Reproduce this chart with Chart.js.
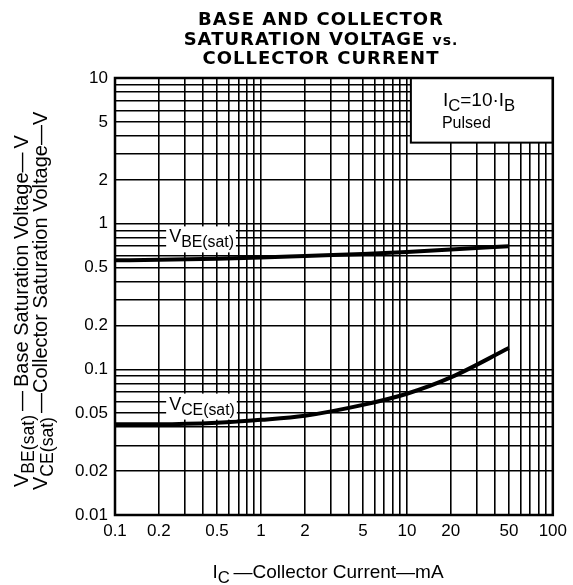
<!DOCTYPE html>
<html>
<head>
<meta charset="utf-8">
<script src="https://cdn.jsdelivr.net/npm/chart.js@4.4.0/dist/chart.umd.min.js"></script>
<style>
  html, body { margin: 0; padding: 0; background: #fff; }
</style>
</head>
<body>
<canvas id="Chart" width="573" height="585"></canvas>
<script>
// data
var currentMA = [0.1, 0.2, 0.5, 1, 2, 5, 10, 20, 50];
var vbeSat = [0.56, 0.565, 0.575, 0.585, 0.6, 0.62, 0.64, 0.665, 0.70];
var vceSat = [0.042, 0.042, 0.043, 0.045, 0.048, 0.057, 0.068, 0.088, 0.14];
var xTickLabels = [0.1, 0.2, 0.5, 1, 2, 5, 10, 20, 50, 100];
var yTickLabels = [0.01, 0.02, 0.05, 0.1, 0.2, 0.5, 1, 2, 5, 10];

var FONT = '"Liberation Sans", Arial, Helvetica, sans-serif';

// all 1..9 x 10^n values between two decades
function logTicks(eMin, eMax) {
  var out = [];
  for (var e = eMin; e < eMax; e++) {
    var p = Math.pow(10, e);
    for (var m = 1; m < 10; m++) out.push(Number((m * p).toPrecision(3)));
  }
  out.push(Math.pow(10, eMax));
  return out;
}

function toPoints(xs, ys) {
  return xs.map(function (x, i) { return { x: x, y: ys[i] }; });
}

// text with subscripts: segments [[text, isSub], ...]
function richWidth(ctx, segs, size) {
  var w = 0;
  segs.forEach(function (s) {
    ctx.font = (s[1] ? size * 0.88 : size) + 'px ' + FONT;
    w += ctx.measureText(s[0]).width;
  });
  return w;
}
function drawRich(ctx, segs, x, y, size) {
  ctx.textAlign = 'left';
  ctx.textBaseline = 'alphabetic';
  segs.forEach(function (s) {
    ctx.font = (s[1] ? size * 0.88 : size) + 'px ' + FONT;
    ctx.fillText(s[0], x, s[1] ? y + size * 0.28 : y);
    x += ctx.measureText(s[0]).width;
  });
}

var sheetPlugin = {
  id: 'sheet',
  afterDatasetsDraw: function (chart) {
    var ctx = chart.ctx, a = chart.chartArea;
    var xs = chart.scales.x, ys = chart.scales.y;
    ctx.save();

    // condition box in the upper right corner
    var bx = xs.getPixelForValue(10) + 4, by = ys.getPixelForValue(3.6);
    ctx.fillStyle = '#fff';
    ctx.fillRect(bx, a.top, a.right - bx, by - a.top);
    ctx.strokeStyle = '#000';
    ctx.lineWidth = 2;
    ctx.strokeRect(bx, a.top, a.right - bx, by - a.top);
    ctx.fillStyle = '#000';
    drawRich(ctx, [['I', false], ['C', true], ['=10\u00b7I', false], ['B', true]], bx + 32, a.top + 28, 19);
    ctx.font = '16px ' + FONT;
    ctx.fillText('Pulsed', bx + 31, a.top + 50);

    // curve labels
    var labels = [
      { segs: [['V', false], ['BE(sat)', true]], x: 0.235, y: 0.78 },
      { segs: [['V', false], ['CE(sat)', true]], x: 0.235, y: 0.0555 }
    ];
    labels.forEach(function (l) {
      var px = xs.getPixelForValue(l.x), py = ys.getPixelForValue(l.y);
      var w = richWidth(ctx, l.segs, 18);
      ctx.fillStyle = '#fff';
      ctx.fillRect(px - 3, py - 13, w + 5, 26);
      ctx.fillStyle = '#000';
      drawRich(ctx, l.segs, px, py + 3, 18);
    });

    // frame
    ctx.lineWidth = 2.5;
    ctx.strokeRect(a.left, a.top, a.right - a.left, a.bottom - a.top);
    ctx.restore();
  },
  afterDraw: function (chart) {
    var ctx = chart.ctx;
    ctx.save();
    ctx.fillStyle = '#000';

    // title
    ctx.textBaseline = 'alphabetic';
    ctx.letterSpacing = '1px';
    var titleFont = 'bold 18px "DejaVu Sans", sans-serif';
    var smallFont = 'bold 14px "DejaVu Sans", sans-serif';
    var cx = 321;
    ctx.font = titleFont;
    ctx.textAlign = 'center';
    ctx.fillText('BASE AND COLLECTOR', cx, 25);
    ctx.fillText('COLLECTOR CURRENT', cx, 64);
    var t2 = 'SATURATION VOLTAGE ', t2b = 'vs.';
    var w2 = ctx.measureText(t2).width;
    ctx.font = smallFont;
    var w2b = ctx.measureText(t2b).width;
    ctx.textAlign = 'left';
    ctx.font = titleFont;
    ctx.fillText(t2, cx - (w2 + w2b) / 2, 45);
    ctx.font = smallFont;
    ctx.fillText(t2b, cx - (w2 + w2b) / 2 + w2, 45);
    ctx.letterSpacing = '0px';

    // x axis title
    var xt = [['I', false], ['C', true], ['\u2009\u2014Collector Current\u2014mA', false]];
    var xw = richWidth(ctx, xt, 19);
    drawRich(ctx, xt, 328 - xw / 2, 578, 19);

    // y axis titles, rotated
    ctx.rotate(-Math.PI / 2);
    drawRich(ctx, [['V', false], ['BE(sat)', true], ['\u2009\u2014\u2009Base Saturation Voltage\u2014\u2009V', false]], -487, 28, 20);
    drawRich(ctx, [['V', false], ['CE(sat)', true], ['\u2009\u2014Collector Saturation Voltage\u2014V', false]], -490, 47, 20);
    ctx.restore();
  }
};

var ctx = document.getElementById('Chart').getContext('2d');
var myChart = new Chart(ctx, {
  type: 'line',
  data: {
    datasets: [{
      label: 'VBE(sat)',
      data: toPoints(currentMA, vbeSat),
      borderColor: '#000',
      borderWidth: 4,
      pointRadius: 0,
      cubicInterpolationMode: 'monotone',
      fill: false
    }, {
      label: 'VCE(sat)',
      data: toPoints(currentMA, vceSat),
      borderColor: '#000',
      borderWidth: 4,
      pointRadius: 0,
      cubicInterpolationMode: 'monotone',
      fill: false
    }]
  },
  options: {
    responsive: false,
    animation: false,
    layout: { padding: { top: 78, right: 16, left: 0, bottom: 0 } },
    plugins: {
      legend: { display: false },
      title: { display: false },
      tooltip: { enabled: false }
    },
    scales: {
      x: {
        type: 'logarithmic',
        min: 0.1,
        max: 100,
        afterBuildTicks: function (s) {
          s.ticks = logTicks(-1, 2).map(function (v) { return { value: v }; });
        },
        afterFit: function (s) { s.height = 70; },
        grid: { color: '#000', lineWidth: 1.6, drawTicks: false },
        border: { display: false },
        ticks: {
          autoSkip: false,
          maxRotation: 0,
          padding: 6,
          color: '#000',
          font: { family: FONT, size: 17 },
          callback: function (v) { return xTickLabels.indexOf(v) >= 0 ? String(v) : ''; }
        }
      },
      y: {
        type: 'logarithmic',
        min: 0.01,
        max: 10,
        afterBuildTicks: function (s) {
          s.ticks = logTicks(-2, 1).map(function (v) { return { value: v }; });
        },
        afterFit: function (s) { s.width = 115; },
        grid: { color: '#000', lineWidth: 1.6, drawTicks: false },
        border: { display: false },
        ticks: {
          autoSkip: false,
          padding: 7,
          color: '#000',
          font: { family: FONT, size: 17 },
          callback: function (v) { return yTickLabels.indexOf(v) >= 0 ? String(v) : ''; }
        }
      }
    }
  },
  plugins: [sheetPlugin]
});
</script>
</body>
</html>
